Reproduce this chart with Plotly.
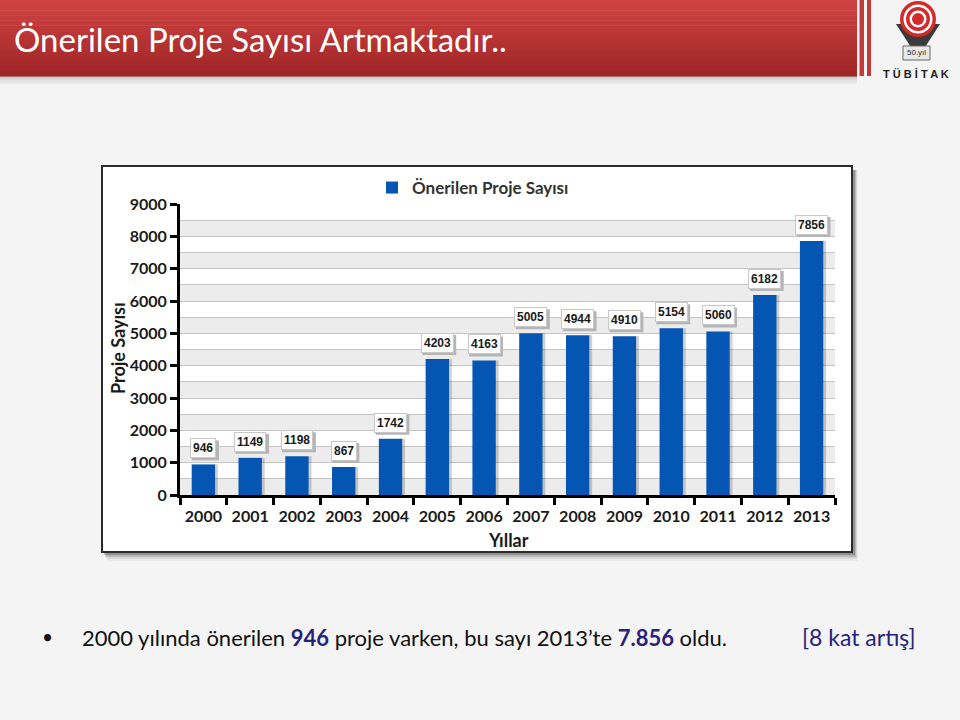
import plotly.graph_objects as go

# ---------------- data ----------------
years = ["2000", "2001", "2002", "2003", "2004", "2005", "2006",
         "2007", "2008", "2009", "2010", "2011", "2012", "2013"]
proposals = [946, 1149, 1198, 867, 1742, 4203, 4163,
             5005, 4944, 4910, 5154, 5060, 6182, 7856]
y_ticks = [0, 1000, 2000, 3000, 4000, 5000, 6000, 7000, 8000, 9000]
band_starts = [0, 1000, 2000, 3000, 4000, 5000, 6000, 7000, 8000]

title_text = "Önerilen Proje Sayısı Artmaktadır.."
series_name = "Önerilen Proje Sayısı"
x_title = "Yıllar"
y_title = "Proje Sayısı"

W, H = 960, 720


def px(x):
    return x / W


def py(y):
    return 1 - y / H


BAR_COLOR = "#0556b3"
NAVY = "#27237a"

fig = go.Figure()

fig.add_trace(go.Bar(
    x=years, y=proposals, name=series_name,
    marker=dict(color=BAR_COLOR, line=dict(width=0)),
    width=0.5, showlegend=True, hoverinfo="x+y",
))

shapes = []

# ---- header band (vertical gradient approximated by strips) ----
top_c = (208, 66, 66)
bot_c = (160, 38, 38)
n = 15
h_top, h_bot = 0, 76
for i in range(n):
    t = i / (n - 1)
    c = tuple(int(top_c[k] + (bot_c[k] - top_c[k]) * t) for k in range(3))
    y0 = h_top + (h_bot - h_top) * i / n
    y1 = h_top + (h_bot - h_top) * (i + 1) / n
    shapes.append(dict(type="rect", xref="paper", yref="paper",
                       x0=0, x1=px(857), y0=py(y1 + 0.5), y1=py(y0),
                       fillcolor="rgb(%d,%d,%d)" % c, line=dict(width=0),
                       layer="below"))
# shadow under header
for i, a in enumerate([0.18, 0.12, 0.07, 0.04]):
    shapes.append(dict(type="rect", xref="paper", yref="paper",
                       x0=0, x1=px(857), y0=py(h_bot + 2 * (i + 1)),
                       y1=py(h_bot + 2 * i),
                       fillcolor="rgba(0,0,0,%.2f)" % a, line=dict(width=0),
                       layer="below"))
# thin stripes
for x0, x1 in [(859.5, 864), (867, 871)]:
    shapes.append(dict(type="rect", xref="paper", yref="paper",
                       x0=px(x0), x1=px(x1), y0=py(76), y1=py(0),
                       fillcolor="#c23a3a", line=dict(width=0), layer="below"))

# ---- logo (approximation) ----
shapes.append(dict(type="path", xref="paper", yref="paper",
                   path="M %f,%f L %f,%f L %f,%f Z" % (px(896), py(24), px(940), py(24), px(918), py(58)),
                   fillcolor="#3a3a3a", line=dict(width=0), layer="above"))
for r, col in [(18, "#d42a2a"), (14.5, "#ffffff"), (12, "#d42a2a"), (8.5, "#ffffff"), (6, "#d42a2a")]:
    shapes.append(dict(type="circle", xref="paper", yref="paper",
                       x0=px(918 - r), x1=px(918 + r), y0=py(19 + r), y1=py(19 - r),
                       fillcolor=col, line=dict(width=0), layer="above"))
shapes.append(dict(type="rect", xref="paper", yref="paper",
                   x0=px(903), x1=px(930), y0=py(60), y1=py(46),
                   fillcolor="#e8e8e8", line=dict(color="#666", width=1), layer="above"))

# ---- chart box ----
for i, a in enumerate([0.22, 0.14, 0.08, 0.04]):
    shapes.append(dict(type="rect", xref="paper", yref="paper",
                       x0=px(104 + i), x1=px(855 + i), y0=py(555 + 2 * i), y1=py(170),
                       fillcolor="rgba(0,0,0,%.2f)" % a, line=dict(width=0), layer="below"))
shapes.append(dict(type="rect", xref="paper", yref="paper",
                   x0=px(102), x1=px(852), y0=py(552), y1=py(166),
                   fillcolor="#ffffff", line=dict(color="#2b2b2b", width=2), layer="below"))

# ---- alternating bands in plot ----
for b in band_starts:
    shapes.append(dict(type="rect", xref="x domain", yref="y",
                       x0=0, x1=1, y0=b, y1=b + 500,
                       fillcolor="#ececec", line=dict(width=0), layer="below"))

# ---- soft shadows: bars (right side) and data-label boxes, anchored to data ----
for i, v in enumerate(proposals):
    shapes.append(dict(type="rect", xref="x", yref="y", xsizemode="pixel",
                       xanchor=i, x0=11.7, x1=14.5, y0=0, y1=v,
                       fillcolor="rgba(0,0,0,0.18)", line=dict(width=0), layer="above"))
    w = len(str(v)) * 6.7 + 7
    shapes.append(dict(type="rect", xref="x", yref="y", xsizemode="pixel", ysizemode="pixel",
                       xanchor=i, yanchor=v, x0=-w / 2 + 2, x1=w / 2 + 2, y0=4, y1=24,
                       fillcolor="#b5b5b5", line=dict(width=0), layer="above"))

annotations = []

# data labels (x given as category index)
for i, v in enumerate(proposals):
    annotations.append(dict(x=i, y=v, xref="x", yref="y", text="<b>%d</b>" % v,
                            showarrow=False, yshift=16,
                            font=dict(family="Liberation Sans, Arial", size=12, color="#1a1a1a"),
                            bgcolor="#ffffff", borderpad=2, borderwidth=1,
                            bordercolor="#c8c8c8"))


def label(x, y, text, size, color, family="Lato", xanchor="center", angle=0):
    annotations.append(dict(x=px(x), y=py(y), xref="paper", yref="paper",
                            text=text, showarrow=False, xanchor=xanchor, yanchor="middle",
                            textangle=angle,
                            font=dict(family=family, size=size, color=color)))


# titles
label(12, 39, title_text, 33, "#ffffff", xanchor="left")
label(916, 74, "<b>T Ü B İ T A K</b>", 11, "#222222",
      family="Liberation Sans Narrow, Liberation Sans")
label(916, 53, "50.yıl", 8, "#333333", family="Liberation Sans")
label(508, 540, "<b>%s</b>" % x_title, 18, "#1a1a1a")
label(118, 348, "<b>%s</b>" % y_title, 18, "#1a1a1a", angle=-90)

# bullet text
label(47, 636, "•", 19, "#111111")
bullet = ("2000 yılında önerilen <b><span style='color:%s'>946</span></b> proje varken, "
          "bu sayı 2013’te <b><span style='color:%s'>7.856</span></b> oldu.") % (NAVY, NAVY)
label(80, 637, bullet, 22, "#111111", xanchor="left")
label(918, 637, "[8 kat artış]", 23, NAVY, xanchor="right")

fig.update_layout(
    width=W, height=H,
    margin=dict(l=0, r=0, t=0, b=0),
    paper_bgcolor="#f4f4f4",
    plot_bgcolor="rgba(0,0,0,0)",
    bargap=0.5,
    shapes=shapes,
    annotations=annotations,
    showlegend=True,
    legend=dict(x=px(372), y=py(170), xanchor="left", yanchor="top",
                orientation="h", bgcolor="rgba(0,0,0,0)",
                font=dict(family="Lato", size=17, color="#333333", weight="bold")),
    xaxis=dict(
        domain=[px(180), px(835)],
        type="category", categoryorder="array", categoryarray=years,
        range=[-0.5, len(years) - 0.5], automargin=False,
        showline=True, linecolor="#000000", linewidth=3,
        ticks="outside", tickson="boundaries", ticklen=7, tickwidth=3, tickcolor="#000000",
        tickangle=0, ticklabelstandoff=5,
        tickfont=dict(family="Lato", size=16, color="#1a1a1a", weight="bold"),
        showgrid=False, zeroline=False, fixedrange=True,
    ),
    yaxis=dict(
        domain=[py(495), py(204)],
        range=[0, 9000], automargin=False,
        tickvals=y_ticks, ticktext=[str(t) for t in y_ticks],
        showline=True, linecolor="#000000", linewidth=3,
        ticks="outside", ticklen=7, tickwidth=3, tickcolor="#000000",
        tickfont=dict(family="Lato", size=16, color="#1a1a1a", weight="bold"),
        showgrid=True, gridcolor="#c4c4c4", gridwidth=1,
        minor=dict(dtick=500, tick0=0, showgrid=True, gridcolor="#c4c4c4", gridwidth=1, ticks=""),
        zeroline=False, fixedrange=True,
    ),
)

fig.write_html("out.html", config={"displayModeBar": False},
               post_script="document.body.style.margin='0';")
